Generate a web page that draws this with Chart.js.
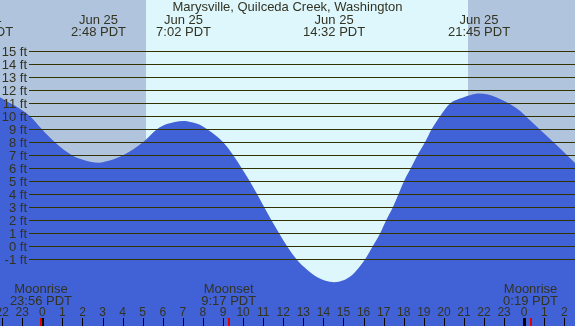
<!DOCTYPE html>
<html>
<head>
<meta charset="utf-8">
<script src="https://cdn.jsdelivr.net/npm/chart.js@4.4.0/dist/chart.umd.min.js"></script>
<style>
  html, body { margin: 0; padding: 0; background: #b0c4de; }
  canvas { display: block; }
</style>
</head>
<body>
<canvas id="tideChart" width="575" height="326"></canvas>
<script>
// tide height (ft) by hour of Jun 25
const tideHours = [-2.11, -0.61, -0.02, 0.63, 1.48, 2.1, 2.8, 3.4, 4.02, 5.01, 5.71, 6.2, 6.6, 7.03,
  7.5, 7.85, 8.27, 8.65, 9.01, 9.51, 9.93, 10.34, 10.71, 11.06, 11.42, 11.8, 12.2, 12.67, 13.2, 13.7,
  14.1, 14.53, 15.0, 15.4, 15.8, 16.07, 16.45, 16.82, 17.12, 17.45, 17.73, 18.01, 18.35, 18.68,
  19.06, 19.39, 19.81, 20.32, 20.96, 21.35, 21.75, 22.2, 22.63, 23.29, 23.8, 24.29, 25.62, 26.53];
const tideFeet = [11.46, 10, 9, 8, 7, 6.62, 6.44, 6.62, 7, 8, 9, 9.4, 9.57, 9.64,
  9.53, 9.35, 8.95, 8.5, 8, 7, 6, 5, 4, 3, 2, 1, 0, -1, -1.8, -2.37,
  -2.64, -2.74, -2.6, -2.23, -1.55, -1, 0, 1, 2, 3, 4, 5, 6, 7,
  8, 9, 10, 11, 11.45, 11.64, 11.74, 11.67, 11.45, 10.95, 10.4, 9.69, 7.77, 6.41];

// high / low tide labels
const extremeHours = [-3.0, 2.8, 7.033, 14.533, 21.75];
const extremeDates = ['Jun 24', 'Jun 25', 'Jun 25', 'Jun 25', 'Jun 25'];
const extremeTimes = ['21:00 PDT', '2:48 PDT', '7:02 PDT', '14:32 PDT', '21:45 PDT'];

// moon events
const moonHours = [-0.067, 9.283, 24.317];
const moonNames = ['Moonrise', 'Moonset', 'Moonrise'];
const moonTimes = ['23:56 PDT', '9:17 PDT', '0:19 PDT'];

// sunrise / sunset (hours)
const sunrise = 5.17;
const sunset = 21.2;

// axis ticks
const feetTicks = [-1, 0, 1, 2, 3, 4, 5, 6, 7, 8, 9, 10, 11, 12, 13, 14, 15];
const hourTicks = [-2, -1, 0, 1, 2, 3, 4, 5, 6, 7, 8, 9, 10, 11, 12, 13, 14, 15, 16, 17, 18, 19, 20, 21, 22, 23, 24, 25, 26];
const hourLabels = ['22', '23', '0', '1', '2', '3', '4', '5', '6', '7', '8', '9', '10', '11', '12', '13',
  '14', '15', '16', '17', '18', '19', '20', '21', '22', '23', '0', '1', '2'];

const NIGHT = '#b0c4de';
const DAY = '#ddf7fd';
const WATER = '#4161d7';
const INK = '#333322';
const LINE = '#333300';
const FONT = '13px "Liberation Sans", Arial, sans-serif';

const tidePoints = tideHours.map((h, i) => ({ x: h, y: tideFeet[i] }));

const decorPlugin = {
  id: 'tideDecor',
  beforeDatasetsDraw(chart) {
    const { ctx, chartArea, scales } = chart;
    const x = scales.x;
    const xr = x.getPixelForValue(sunrise);
    const xs = x.getPixelForValue(sunset);
    ctx.save();
    ctx.fillStyle = NIGHT;
    ctx.fillRect(chartArea.left, chartArea.top, chartArea.width, chartArea.height);
    ctx.fillStyle = DAY;
    ctx.fillRect(Math.round(xr), chartArea.top, Math.round(xs) - Math.round(xr), chartArea.height);
    ctx.restore();
  },
  afterDatasetsDraw(chart) {
    const { ctx, chartArea, scales } = chart;
    const x = scales.x;
    const y = scales.y;
    ctx.save();

    // horizontal feet lines + labels
    ctx.font = FONT;
    ctx.textAlign = 'right';
    ctx.textBaseline = 'middle';
    feetTicks.forEach(f => {
      const py = Math.floor(y.getPixelForValue(f)) + 0.5;
      ctx.strokeStyle = LINE;
      ctx.lineWidth = 1;
      ctx.beginPath();
      ctx.moveTo(29, py);
      ctx.lineTo(chartArea.right, py);
      ctx.stroke();
      ctx.fillStyle = INK;
      ctx.fillText(f + ' ft', 27, py + 1);
    });

    // title
    ctx.textAlign = 'center';
    ctx.textBaseline = 'alphabetic';
    ctx.fillStyle = INK;
    ctx.fillText('Marysville, Quilceda Creek, Washington', (chartArea.left + chartArea.right) / 2, 11);

    // high / low labels
    extremeHours.forEach((h, i) => {
      const px = x.getPixelForValue(h);
      ctx.fillText(extremeDates[i], px, 24);
      ctx.fillText(extremeTimes[i], px, 36);
    });

    // moon labels
    moonHours.forEach((h, i) => {
      const px = x.getPixelForValue(h);
      ctx.fillText(moonNames[i], px, 293);
      ctx.fillText(moonTimes[i], px, 305);
    });

    // hour ticks
    ctx.font = '12px "Liberation Sans", Arial, sans-serif';
    hourTicks.forEach((h, i) => {
      const px = x.getPixelForValue(h);
      ctx.fillStyle = INK;
      ctx.fillText(hourLabels[i], px, 316);
      ctx.fillStyle = '#000000';
      if (hourLabels[i] === '0') {
        ctx.fillRect(Math.round(px) - 1, 318, 3, 8);
      } else {
        ctx.fillRect(Math.round(px), 318, 1, 8);
      }
    });

    // moon event marks
    ctx.fillStyle = '#e00000';
    moonHours.forEach(h => {
      const px = x.getPixelForValue(h);
      ctx.fillRect(Math.round(px) - 1, 318, 2, 8);
    });

    ctx.restore();
  }
};

const ctx = document.getElementById('tideChart').getContext('2d');
new Chart(ctx, {
  type: 'line',
  data: {
    datasets: [{
      data: tidePoints,
      borderColor: WATER,
      borderWidth: 0,
      backgroundColor: WATER,
      fill: 'start',
      pointRadius: 0,
      cubicInterpolationMode: 'monotone'
    }]
  },
  options: {
    responsive: false,
    animation: false,
    devicePixelRatio: 1,
    layout: { padding: 0 },
    plugins: {
      legend: { display: false },
      tooltip: { enabled: false }
    },
    scales: {
      x: { type: 'linear', display: false, min: -2.107, max: 26.53 },
      y: { type: 'linear', display: false, min: -6.106, max: 18.93 }
    }
  },
  plugins: [decorPlugin]
});
</script>
</body>
</html>
